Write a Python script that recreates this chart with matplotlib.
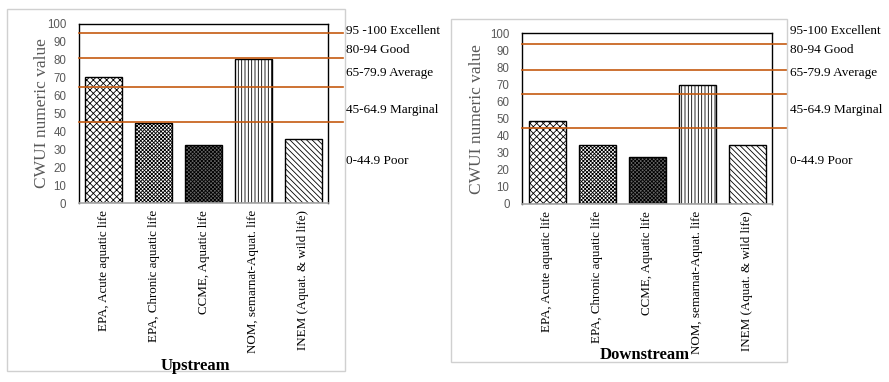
import matplotlib
matplotlib.use("Agg")
import matplotlib.pyplot as plt
from matplotlib.patches import Rectangle
from matplotlib.transforms import blended_transform_factory

categories = ["EPA, Acute aquatic life", "EPA, Chronic aquatic life", "CCME, Aquatic life",
              "NOM, semarnat-Aquat. life", "INEM (Aquat. & wild life)"]
upstream = [70.5, 44.5, 32.3, 80.5, 35.6]
downstream = [48.5, 34.5, 27.5, 69.5, 34.5]
up_thresholds = [95, 81, 65, 45.5]
down_thresholds = [93.7, 78.5, 64.3, 44.6]
class_labels_up = ["95 -100 Excellent", "80-94 Good", "65-79.9 Average", "45-64.9 Marginal", "0-44.9 Poor"]
class_labels_down = ["95-100 Excellent", "80-94 Good", "65-79.9 Average", "45-64.9 Marginal", "0-44.9 Poor"]
yticks = list(range(0, 101, 10))

W, H = 889, 382
fig = plt.figure(figsize=(W / 100, H / 100), dpi=100)
plt.rcParams['hatch.linewidth'] = 0.6

serif = "Liberation Serif"
sans = "Liberation Sans"
line_color = "#C55A11"

hatches = ["xxxxx", "xxxxxxxxx", "xxxxxxxxx", "|||||", "\\\\\\\\\\\\"]
faces = ["white", "white", "0.4", "white", "white"]


def px(x0, y0, x1, y1):
    return [x0 / W, 1 - y1 / H, (x1 - x0) / W, (y1 - y0) / H]


def panel(rect, vals, thresholds, labels, title, title_xy, label_x, border, line_end, lpad):
    bx0, by0, bx1, by1 = border
    fig.patches.append(Rectangle((bx0 / W, 1 - by1 / H), (bx1 - bx0) / W, (by1 - by0) / H,
                                 transform=fig.transFigure, fill=False,
                                 edgecolor="#D0D0D0", linewidth=1.0, zorder=0))
    ax = fig.add_axes(px(*rect))
    x = list(range(len(vals)))
    for i, v in enumerate(vals):
        ax.bar(x[i], v, width=0.74, color=faces[i], edgecolor="black", hatch=hatches[i],
               linewidth=1.0, zorder=2)
    ax.set_xlim(-0.5, len(vals) - 0.5)
    ax.set_ylim(0, 100)
    ax.set_yticks(yticks)
    ax.set_yticklabels([str(t) for t in yticks], family=sans, fontsize=8.3, color="#595959")
    ax.set_xticks(x)
    ax.set_xticklabels(categories, rotation=90, family=serif, fontsize=9.4, color="black",
                       va="top", ha="center")
    ax.tick_params(axis="both", length=0)
    ax.tick_params(axis="y", pad=9)
    ax.tick_params(axis="x", pad=5)
    for s in ["left", "right", "top"]:
        ax.spines[s].set_color("black")
        ax.spines[s].set_linewidth(1.0)
    ax.spines["bottom"].set_color("#A6A6A6")
    ax.spines["bottom"].set_linewidth(1.2)
    ax.set_ylabel("CWUI numeric value", family=serif, fontsize=12.5, color="#595959", labelpad=lpad)
    trans = blended_transform_factory(ax.transAxes, ax.transData)
    for t in thresholds:
        ax.plot([0, line_end], [t, t], color=line_color, linewidth=1.2, transform=trans,
                clip_on=False, zorder=3)
    ys = [31, 50, 73, 110, 161]
    for lab, yy in zip(labels, ys):
        fig.text(label_x / W, 1 - yy / H, lab, family=serif, fontsize=9.5, color="black",
                 ha="left", va="center")
    fig.text(title_xy[0] / W, 1 - title_xy[1] / H, title, family=serif, fontsize=12,
             fontweight="bold", ha="center", va="center")
    return ax


panel((79, 24, 328, 203), upstream, up_thresholds, class_labels_up, "Upstream", (195, 366),
      346, (7, 9, 345, 371), 1.06, -2)
panel((522, 33.3, 772, 204), downstream, down_thresholds, class_labels_down, "Downstream",
      (645, 355), 790, (451, 19, 787, 362), 1.06, 4)

fig.savefig("out.png", dpi=100, facecolor="white")
